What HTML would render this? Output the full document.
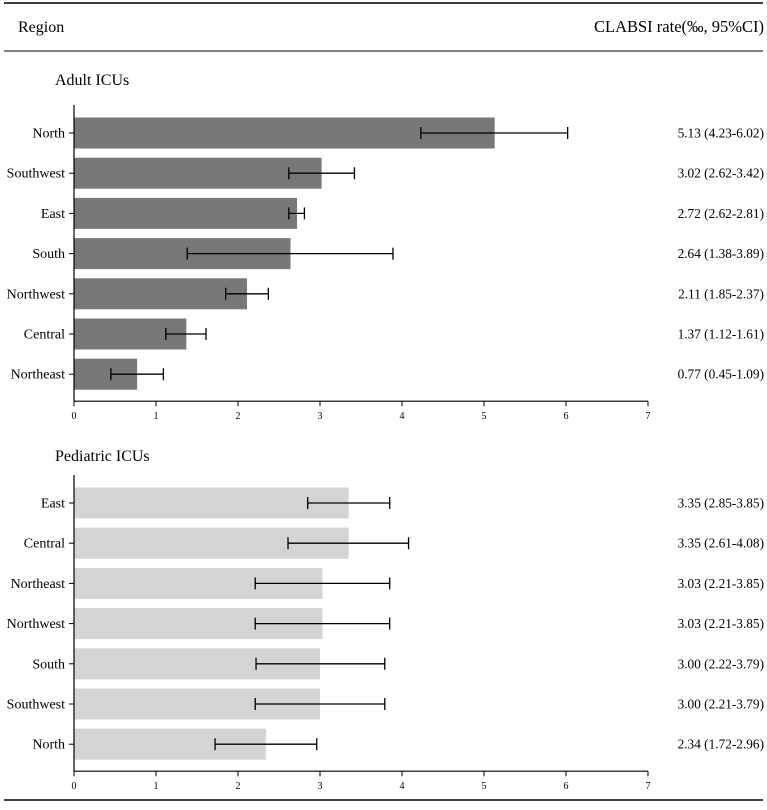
<!DOCTYPE html>
<html><head><meta charset="utf-8"><style>
body{margin:0;background:#fff;width:767px;height:805px;overflow:hidden;font-family:"Liberation Serif",serif;}
</style></head><body>
<svg id="chart" width="767" height="805" xmlns="http://www.w3.org/2000/svg" font-family="Liberation Serif, serif">
<line x1="4" y1="3" x2="763" y2="3" stroke="#000" stroke-width="1.5"/>
<text x="18" y="32" font-size="16">Region</text>
<text x="764" y="32" font-size="16.5" text-anchor="end">CLABSI rate(‰, 95%CI)</text>
<line x1="4" y1="51" x2="763" y2="51" stroke="#000" stroke-width="1"/>
<line x1="4" y1="800" x2="763" y2="800" stroke="#000" stroke-width="1.5"/>
<g id="g"></g>
</svg>
<script>
const adultCats=["North","Southwest","East","South","Northwest","Central","Northeast"];
const adultVals=[5.13,3.02,2.72,2.64,2.11,1.37,0.77];
const adultLo=[4.23,2.62,2.62,1.38,1.85,1.12,0.45];
const adultHi=[6.02,3.42,2.81,3.89,2.37,1.61,1.09];
const pedCats=["East","Central","Northeast","Northwest","South","Southwest","North"];
const pedVals=[3.35,3.35,3.03,3.03,3.00,3.00,2.34];
const pedLo=[2.85,2.61,2.21,2.21,2.22,2.21,1.72];
const pedHi=[3.85,4.08,3.85,3.85,3.79,3.79,2.96];
const ticks=[0,1,2,3,4,5,6,7];
const NS="http://www.w3.org/2000/svg";
const g=document.getElementById('g');
const X0=74,SC=82;
function x(v){return X0+v*SC;}
function mk(t,a){const e=document.createElementNS(NS,t);for(const k in a)e.setAttribute(k,a[k]);g.appendChild(e);return e;}
function panel(key,title,titleY,firstY,cats,vals,lo,hi,fill){
  const t=mk('text',{x:55,y:titleY,'font-size':16});t.textContent=title;
  
  
  const axisY=firstY+(cats.length-1)*40.2+27;
  cats.forEach((c,i)=>{
    const cy=firstY+i*40.2;
    const r=mk('rect',{x:x(0),y:cy-15.5,width:x(vals[i])-x(0),height:31,fill:fill});
    
    
    const e=mk('path',{d:`M${x(lo[i])},${cy}H${x(hi[i])}M${x(lo[i])},${cy-6}V${cy+6}M${x(hi[i])},${cy-6}V${cy+6}`,stroke:'#000','stroke-width':1.3,fill:'none'});
    
    
    mk('line',{x1:x(0)-5,y1:cy,x2:x(0),y2:cy,stroke:'#000'});
    const l=mk('text',{x:x(0)-9,y:cy+4.5,'font-size':14,'text-anchor':'end'});l.textContent=c;
    
    
    const v=mk('text',{x:764,y:cy+4.5,'font-size':13.3,'text-anchor':'end'});
    v.textContent=vals[i].toFixed(2)+' ('+lo[i].toFixed(2)+'-'+hi[i].toFixed(2)+')';
    
    
  });
  const ya=mk('line',{x1:x(0),y1:firstY-28,x2:x(0),y2:axisY,stroke:'#000','stroke-width':1.2});
  
  
  const xa=mk('line',{x1:x(0),y1:axisY,x2:x(7),y2:axisY,stroke:'#000','stroke-width':1.2});
  
  
  ticks.forEach(tv=>{
    mk('line',{x1:x(tv),y1:axisY,x2:x(tv),y2:axisY+5,stroke:'#000'});
    const tl=mk('text',{x:x(tv),y:axisY+18,'font-size':10,'text-anchor':'middle'});tl.textContent=tv;
    
    
  });
}
panel('adult','Adult ICUs',85,133,adultCats,adultVals,adultLo,adultHi,'#787878');
panel('pediatric','Pediatric ICUs',461,503,pedCats,pedVals,pedLo,pedHi,'#d4d4d4');
</script>
</body></html>
